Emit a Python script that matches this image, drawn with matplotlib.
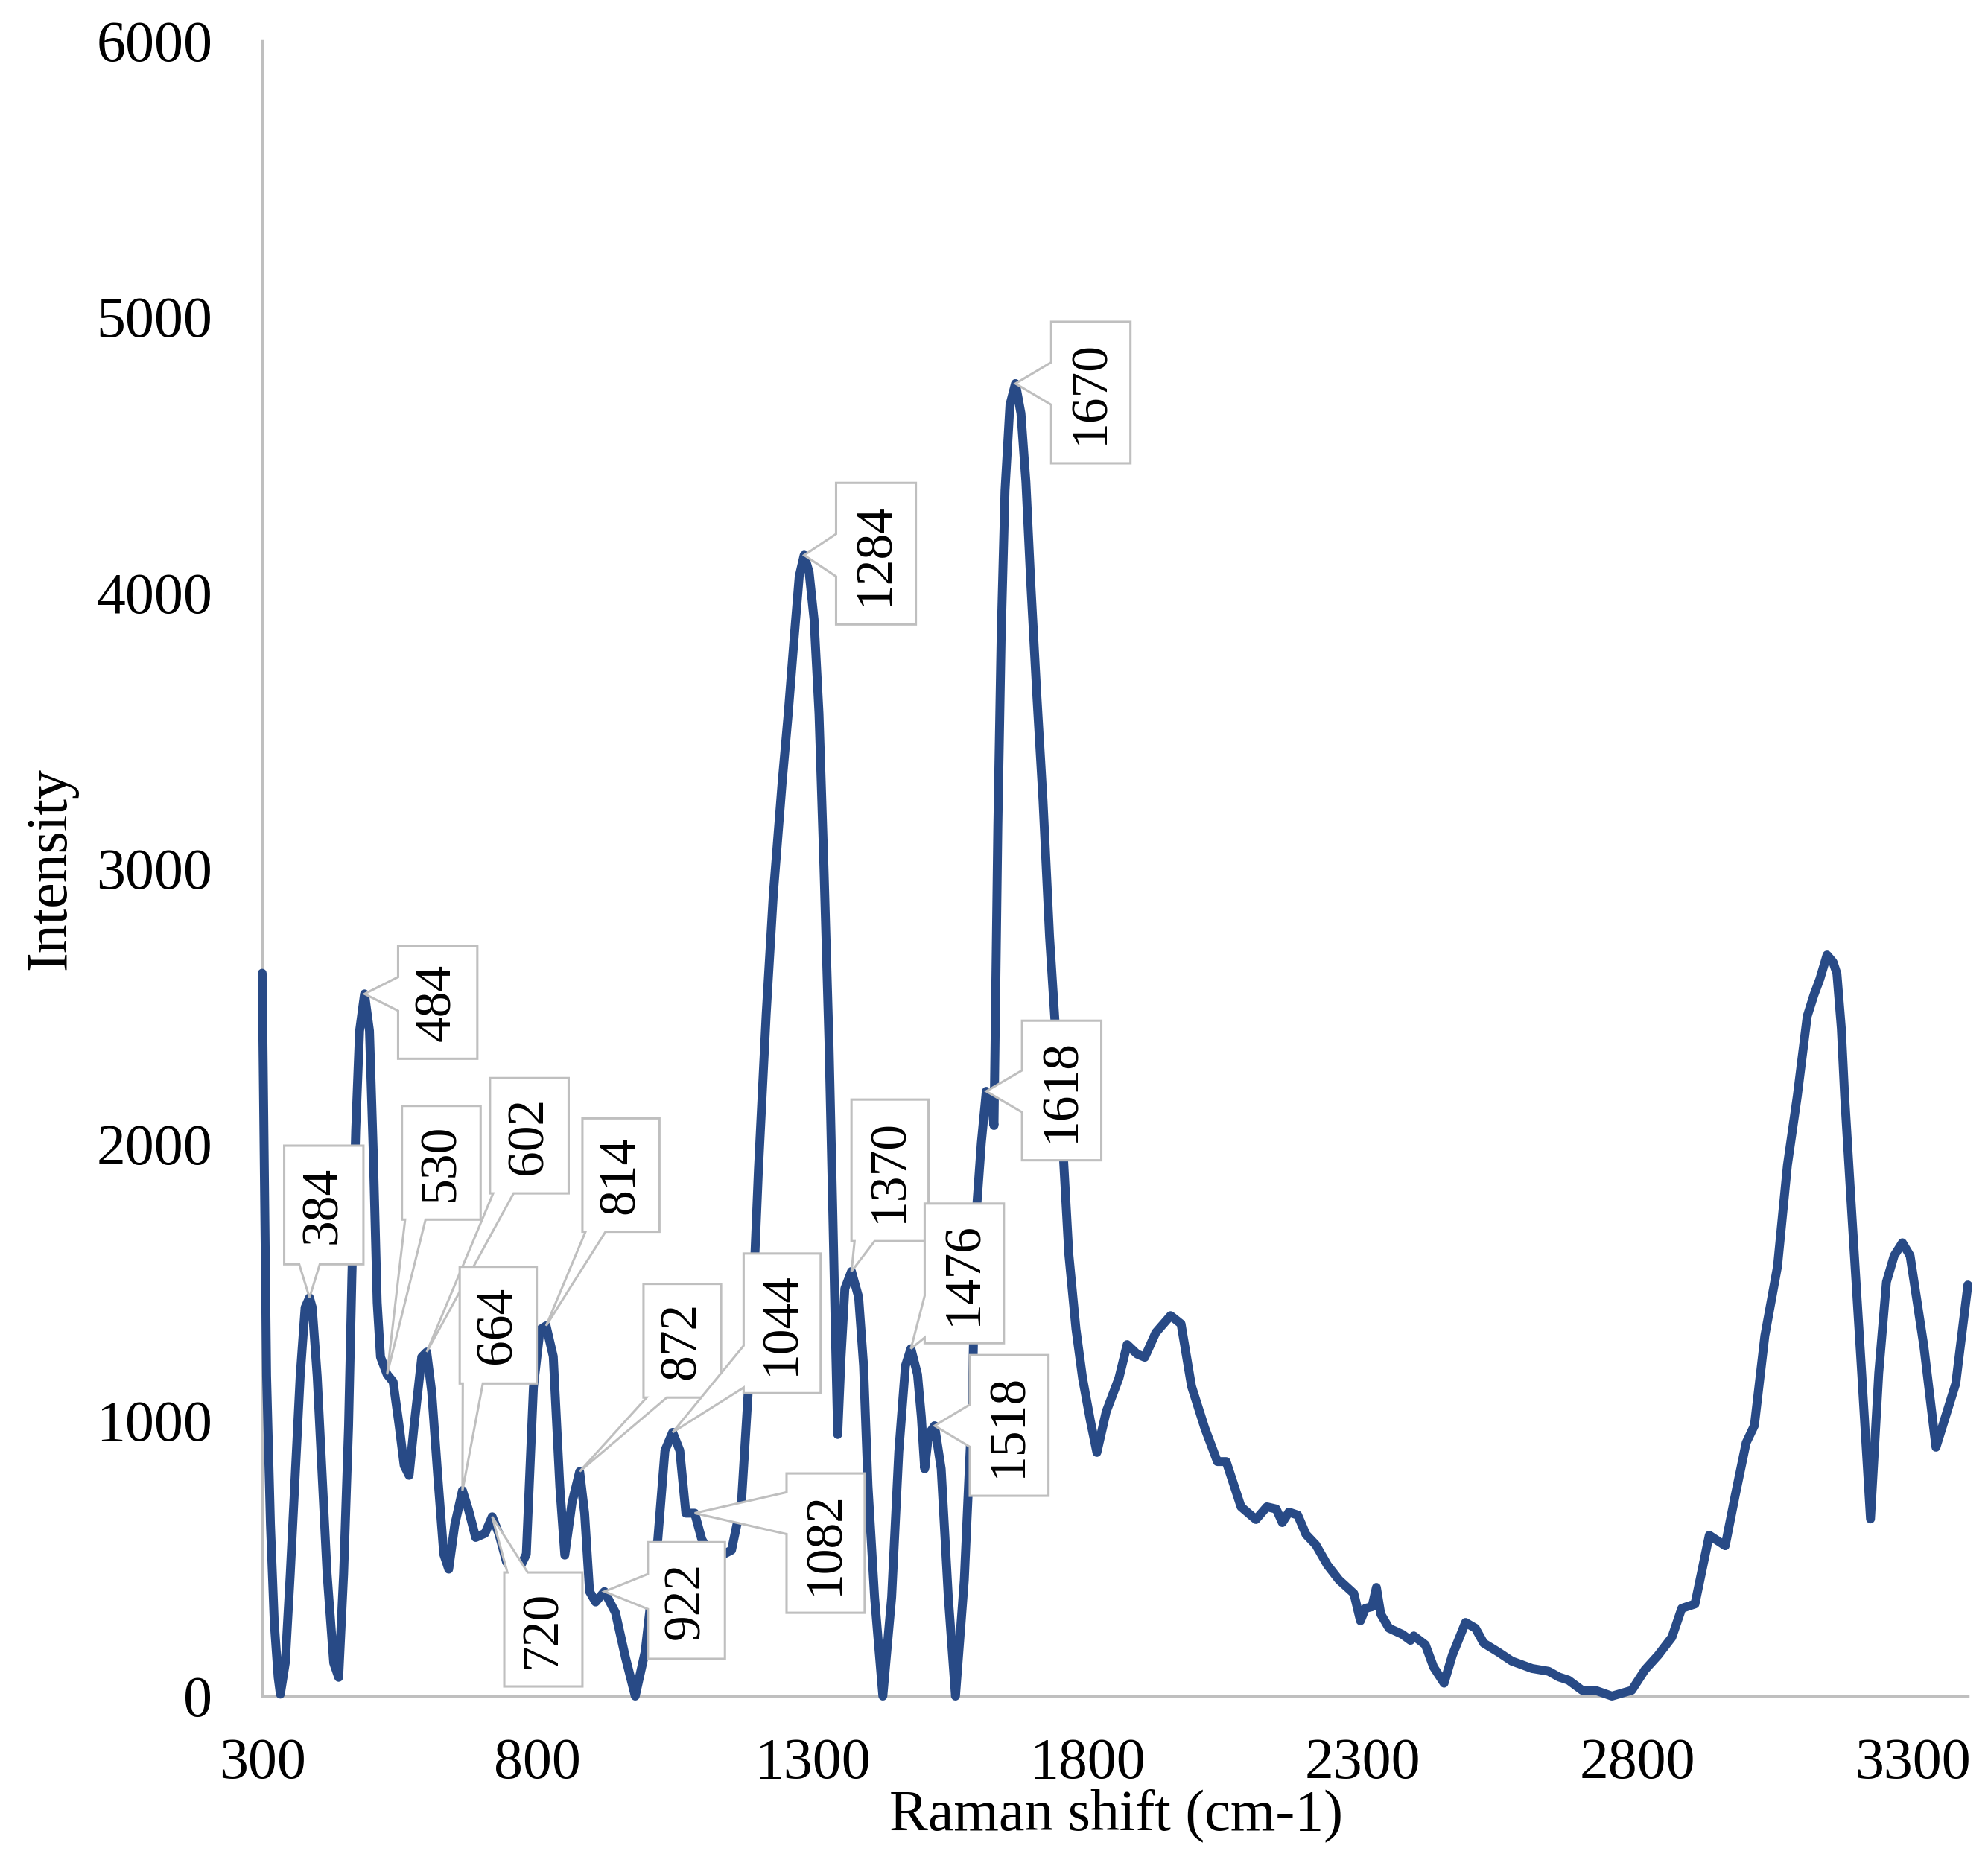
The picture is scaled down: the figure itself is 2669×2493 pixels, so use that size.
import matplotlib
matplotlib.use("Agg")
import matplotlib.pyplot as plt
from matplotlib.patches import Polygon
import numpy as np

# ---------------- data ----------------
raman_shift = [300, 306, 308, 315, 322, 329, 333, 342, 351, 360, 369, 378, 386, 391, 400,
               409, 418, 430, 439, 448, 457, 463, 470, 477, 486, 495, 502, 509, 515, 527,
               538, 549, 558, 567, 576, 590, 599, 608, 619, 630, 639, 650, 664, 675, 688,
               705, 718, 730, 744, 762, 780, 793, 805, 816, 829, 841, 850, 863, 877, 886,
               895, 906, 922, 942, 960, 978, 996, 1019, 1032, 1046, 1059, 1070, 1086, 1099,
               1120, 1153, 1171, 1189, 1202, 1216, 1229, 1245, 1256, 1267, 1276, 1285,
               1294, 1303, 1312, 1321, 1330, 1337, 1342, 1346, 1352, 1359, 1371, 1384,
               1393, 1401, 1413, 1428, 1444, 1457, 1469, 1479, 1491, 1498, 1504, 1511,
               1522, 1534, 1547, 1560, 1576, 1590, 1598, 1607, 1616, 1625, 1630, 1632,
               1637, 1643, 1650, 1659, 1669, 1679, 1688, 1697, 1708, 1719, 1731, 1740,
               1753, 1766, 1779, 1791, 1805, 1817, 1834, 1857, 1872, 1890, 1904, 1924,
               1951, 1970, 1989, 2013, 2036, 2052, 2079, 2106, 2126, 2143, 2154, 2166,
               2182, 2197, 2215, 2236, 2257, 2284, 2296, 2305, 2317, 2325, 2333, 2348,
               2372, 2387, 2393, 2414, 2429, 2448, 2463, 2487, 2505, 2520, 2547, 2571,
               2608, 2638, 2657, 2674, 2699, 2723, 2753, 2789, 2813, 2837, 2862, 2880,
               2904, 2930, 2959, 2977, 2997, 3012, 3031, 3054, 3072, 3090, 3108, 3120,
               3131, 3144, 3155, 3162, 3170, 3176, 3189, 3207, 3223, 3238, 3252, 3266,
               3281, 3295, 3320, 3342, 3360, 3378, 3400]
intensity = [2620, 1520, 1161, 623, 265, 68, 7, 120, 442, 800, 1158, 1408, 1444, 1408, 1158,
             800, 442, 120, 68, 442, 979, 1516, 2053, 2411, 2545, 2411, 1963, 1426, 1229, 1166,
             1139, 979, 836, 800, 979, 1229, 1247, 1104, 800, 514, 460, 621, 745, 675, 575,
             590, 650, 590, 486, 440, 514, 1120, 1328, 1342, 1231, 757, 511, 700, 814, 663,
             379, 341, 379, 303, 142, 0, 161, 568, 890, 956, 890, 663, 663, 568,
             495, 529, 700, 1290, 1912, 2472, 2907, 3312, 3560, 3840, 4058, 4135,
             4073, 3902, 3560, 3001, 2379, 1757, 1290, 948, 1228, 1477, 1539, 1446,
             1197, 762, 358, 0, 358, 886, 1197, 1259, 1166, 1011, 824, 948,
             980, 824, 358, 0, 420, 1042, 1757, 2006, 2192, 2161, 2068, 2379,
             3156, 3840, 4369, 4680, 4757, 4649, 4400, 4027, 3622, 3249, 2752, 2472,
             2068, 1601, 1330, 1152, 1000, 883, 1031, 1152, 1274, 1240, 1228, 1317,
             1379, 1349, 1123, 972, 850, 850, 686, 640, 686, 678, 629, 667,
             656, 586, 548, 475, 421, 372, 273, 318, 324, 394, 297, 246,
             224, 202, 218, 186, 105, 47, 148, 267, 246, 192, 159, 127,
             100, 90, 69, 58, 21, 21, 0, 21, 95, 148, 213, 318,
             334, 583, 545, 726, 918, 981, 1306, 1557, 1924, 2175, 2464, 2540,
             2599, 2686, 2660, 2618, 2420, 2175, 1749, 1171, 642, 1171, 1501, 1596,
             1643, 1596, 1268, 902, 1017, 1133, 1490]

peak_labels = ["384", "484", "530", "602", "664", "720", "814", "872", "922", "1044",
               "1082", "1284", "1370", "1476", "1518", "1618", "1670"]
peak_x = [386, 486, 527, 599, 664, 718, 816, 877, 922, 1046,
          1086, 1285, 1371, 1479, 1522, 1616, 1669]
peak_y = [1444, 2545, 1166, 1247, 745, 650, 1342, 814, 379, 956,
          663, 4135, 1539, 1259, 980, 2192, 4757]
# label box extents (x0, x1, y0, y1) in data units
box_x0 = [340, 547, 554, 714, 659, 740, 882, 993, 1001, 1175, 1253, 1343, 1371, 1504, 1586, 1681, 1734]
box_x1 = [484, 691, 697, 857, 799, 882, 1022, 1134, 1141, 1315, 1395, 1488, 1511, 1648, 1729, 1825, 1878]
box_y0 = [1565, 2310, 1727, 1822, 1133, 35, 1683, 1082, 135, 1098, 302, 3884, 1649, 1279, 726, 1942, 4468]
box_y1 = [1995, 2718, 2139, 2240, 1556, 448, 2094, 1494, 558, 1604, 807, 4397, 2162, 1785, 1236, 2448, 4981]

x_ticks = [300, 800, 1300, 1800, 2300, 2800, 3300]
y_ticks = [0, 1000, 2000, 3000, 4000, 5000, 6000]

# ---------------- style ----------------
FONT = ["Liberation Serif", "DejaVu Serif"]
plt.rcParams["font.family"] = FONT
LINE_COLOR = "#284A86"
GRAY = "#BFBFBF"

W, H, DPI = 2669, 2493, 100
fig = plt.figure(figsize=(W / DPI, H / DPI), dpi=DPI)
ax = fig.add_axes([352 / W, 1 - 2277 / H, (2642 - 352) / W, (2277 - 54.5) / H])

ax.set_xlim(300, 3400)
ax.set_ylim(0, 6000)
ax.plot(raman_shift, intensity, color=LINE_COLOR, lw=8.6, solid_joinstyle="round",
        solid_capstyle="round", clip_on=False, zorder=3)

for s in ["top", "right"]:
    ax.spines[s].set_visible(False)
for s in ["left", "bottom"]:
    ax.spines[s].set_color(GRAY)
    ax.spines[s].set_linewidth(2.5)
ax.set_xticks(x_ticks)
ax.set_yticks(y_ticks)
ax.tick_params(axis="both", length=0, labelsize=56, colors="black")
ax.tick_params(axis="y", pad=48)
ax.tick_params(axis="x", pad=40)

fig.text(0.0255, 1 - 1166 / H, "Intensity", rotation=90, ha="center", va="center", fontsize=56)
fig.text(1498 / W, 1 - 2437 / H, "Raman shift (cm-1)", ha="center", va="center", fontsize=56)

# ---------------- callouts ----------------
T = ax.transData
Tinv = T.inverted()


def callout(x0, x1, y0, y1, xa, ya, text):
    (px0, py0) = T.transform((x0, y0))
    (px1, py1) = T.transform((x1, y1))
    (pax, pay) = T.transform((xa, ya))
    dxl, dxr = px0 - pax, pax - px1
    dyb, dyt = py0 - pay, pay - py1
    hd = max(dxl, dxr, 0)
    vd = max(dyb, dyt, 0)
    BL, BR, TR, TL = (px0, py0), (px1, py0), (px1, py1), (px0, py1)
    if vd >= hd:
        side = "bottom" if dyb > 0 else "top"
        L = px1 - px0
        w = 0.13 * L
        c = min(max(pax, px0 + w + 0.04 * L), px1 - w - 0.04 * L)
    else:
        side = "left" if dxl > 0 else "right"
        L = py1 - py0
        w = 0.15 * L
        c = min(max(pay, py0 + w + 0.04 * L), py1 - w - 0.04 * L)
    A = (pax, pay)
    if side == "bottom":
        verts = [BL, (c - w, py0), A, (c + w, py0), BR, TR, TL]
    elif side == "right":
        verts = [BL, BR, (px1, c - w), A, (px1, c + w), TR, TL]
    elif side == "top":
        verts = [BL, BR, TR, (c + w, py1), A, (c - w, py1), TL]
    else:
        verts = [BL, BR, TR, TL, (px0, c + w), A, (px0, c - w)]
    dverts = Tinv.transform(np.array(verts))
    poly = Polygon(dverts, closed=True, facecolor="white", edgecolor=GRAY,
                   linewidth=2.2, joinstyle="miter", clip_on=False, zorder=5)
    ax.add_patch(poly)
    ax.text((x0 + x1) / 2, (y0 + y1) / 2, text, rotation=90, ha="center", va="center",
            fontsize=50, zorder=6, clip_on=False)


for lab, xa, ya, a0, a1, b0, b1 in zip(peak_labels, peak_x, peak_y, box_x0, box_x1, box_y0, box_y1):
    callout(a0, a1, b0, b1, xa, ya, lab)

fig.savefig("out.png", dpi=DPI)
